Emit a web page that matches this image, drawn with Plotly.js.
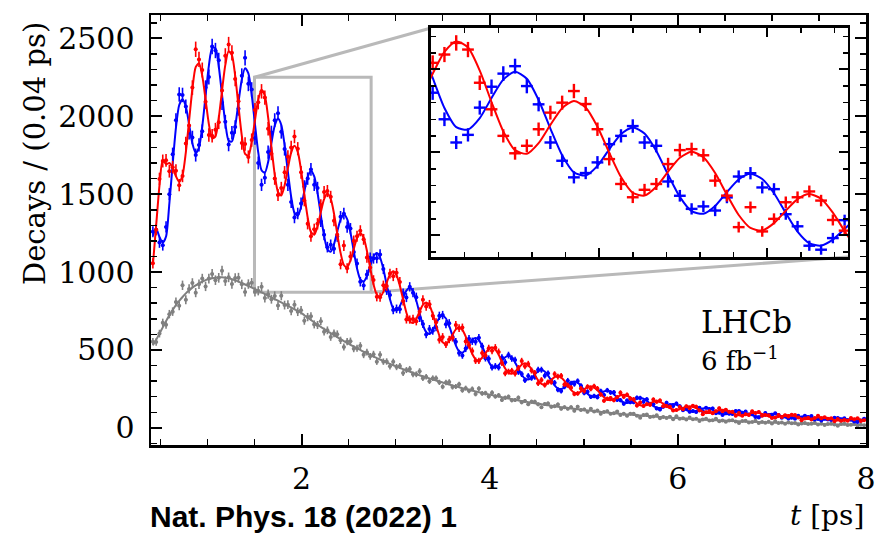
<!DOCTYPE html>
<html><head><meta charset="utf-8">
<script src="https://cdn.plot.ly/plotly-3.0.1.min.js"></script>
<style>html,body{margin:0;padding:0;background:#fff}</style>
</head><body><div id="plot" style="width:876px;height:535px"></div>
<script>
// decay time bin centres [ps]
const t = [0.420,0.455,0.490,0.525,0.560,0.595,0.630,0.665,0.700,0.735,
0.770,0.805,0.840,0.875,0.910,0.945,0.980,1.015,1.050,1.085,
1.120,1.155,1.190,1.225,1.260,1.295,1.330,1.365,1.400,1.435,
1.470,1.505,1.540,1.575,1.610,1.645,1.680,1.715,1.750,1.785,
1.820,1.855,1.890,1.925,1.960,1.995,2.030,2.065,2.100,2.135,
2.170,2.205,2.240,2.275,2.310,2.345,2.380,2.415,2.450,2.485,
2.520,2.555,2.590,2.625,2.660,2.695,2.730,2.765,2.800,2.835,
2.870,2.905,2.940,2.975,3.010,3.045,3.080,3.115,3.150,3.185,
3.220,3.255,3.290,3.325,3.360,3.395,3.430,3.465,3.500,3.535,
3.570,3.605,3.640,3.675,3.710,3.745,3.780,3.815,3.850,3.885,
3.920,3.955,3.990,4.025,4.060,4.095,4.130,4.165,4.200,4.235,
4.270,4.305,4.340,4.375,4.410,4.445,4.480,4.515,4.550,4.585,
4.620,4.655,4.690,4.725,4.760,4.795,4.830,4.865,4.900,4.935,
4.970,5.005,5.040,5.075,5.110,5.145,5.180,5.215,5.250,5.285,
5.320,5.355,5.390,5.425,5.460,5.495,5.530,5.565,5.600,5.635,
5.670,5.705,5.740,5.775,5.810,5.845,5.880,5.915,5.950,5.985,
6.020,6.055,6.090,6.125,6.160,6.195,6.230,6.265,6.300,6.335,
6.370,6.405,6.440,6.475,6.510,6.545,6.580,6.615,6.650,6.685,
6.720,6.755,6.790,6.825,6.860,6.895,6.930,6.965,7.000,7.035,
7.070,7.105,7.140,7.175,7.210,7.245,7.280,7.315,7.350,7.385,
7.420,7.455,7.490,7.525,7.560,7.595,7.630,7.665,7.700,7.735,
7.770,7.805,7.840,7.875,7.910,7.945,7.980];

// red: measured decays
const redData = [1056,1272,1598,1713,1717,1647,1673,1651,1558,1617,
1826,1941,2184,2430,2365,2297,2093,1880,1875,1914,
1962,2165,2388,2460,2407,2240,2096,1828,1822,1739,
1847,2040,2090,2160,2120,1920,1760,1600,1495,1540,
1640,1740,1800,1870,1792,1640,1460,1310,1230,1275,
1310,1430,1514,1520,1483,1330,1240,1050,1170,1024,
1100,1200,1230,1265,1210,1093,1029,949,841,838,
915,910,990,973,995,937,814,696,695,699,
684,746,823,779,793,719,678,565,584,535,
567,578,660,640,644,555,531,494,431,430,
480,464,511,495,515,487,417,350,361,366,
349,384,429,396,410,368,353,286,308,275,
294,294,345,329,334,279,274,258,218,221,
253,236,264,251,267,253,214,174,187,191,
178,197,226,200,212,188,184,143,163,141,
152,148,182,168,175,139,141,136,112,114,
134,120,138,126,142,136,112,88,101,106,
94,107,126,107,117,103,103,78,95,78,
87,82,106,96,102,78,83,81,64,66,
82,69,81,73,84,82,66,49,60,65,
54,63,78,61,68,59,62,43,57,46,
51,46,63,56,62,44,49];
// red: fitted curve
const redFit = [1046,1301,1555,1721,1692,1700,1669,1615,1578,1621,
1767,1972,2175,2316,2341,2259,2107,1950,1858,1871,
1989,2165,2330,2418,2392,2259,2064,1876,1759,1747,
1834,1974,2106,2169,2132,1993,1804,1627,1514,1492,
1556,1666,1767,1810,1771,1655,1499,1352,1257,1240,
1293,1384,1468,1504,1471,1376,1245,1123,1045,1030,
1074,1149,1219,1249,1221,1137,1026,922,856,841,
873,931,984,1005,979,913,823,739,685,673,
700,746,789,804,785,730,660,592,549,540,
560,598,632,645,629,586,529,474,441,432,
450,479,507,518,504,470,423,381,353,347,
360,384,405,414,404,376,340,305,283,278,
289,308,325,333,323,301,272,244,226,222,
232,247,261,267,259,241,218,196,182,178,
186,197,209,213,208,194,175,157,145,143,
148,158,168,171,167,155,140,126,117,115,
119,128,136,138,136,127,115,104,97,96,
100,107,113,117,114,107,96,88,81,80,
84,90,95,98,96,90,82,73,68,67,
70,75,79,82,80,75,68,61,57,57,
59,63,68,68,66,62,57,51,47,47,
49,52,55,58,57,53,48];

// blue: measured decays
const blueData = [1259,1272,1190,1172,1290,1500,1757,1975,2140,2137,
2063,1895,1864,1751,1816,1904,2184,2252,2448,2422,
2359,2086,1965,1818,1894,1931,2049,2260,2375,2208,
2172,1860,1700,1560,1606,1770,1896,1975,2020,1900,
1790,1560,1450,1350,1376,1440,1550,1600,1659,1560,
1540,1325,1239,1160,1175,1150,1229,1355,1375,1289,
1279,1128,1055,938,914,984,1092,1087,1089,1113,
1019,883,852,757,764,761,865,836,905,868,
839,706,666,599,635,623,645,719,724,665,
672,585,553,480,465,509,572,556,553,578,
524,447,444,388,396,388,452,421,467,445,
436,359,345,305,333,320,327,373,373,335,
350,301,290,245,236,264,303,285,281,300,
270,224,232,199,205,197,236,211,241,227,
228,180,178,155,176,165,165,194,192,168,
183,154,152,125,118,136,161,145,141,156,
139,113,124,103,108,102,129,107,129,121,
125,94,97,83,100,90,89,109,108,90,
105,86,90,70,67,79,96,83,81,93,
82,65,74,60,65,59,77,60,77,70,
76,54,57,48,61,53,50,65,64,50,
62,51,54,41,38,47,59];
// blue: fitted curve
const blueFit = [1234,1279,1225,1189,1228,1440,1691,1925,2072,2109,
2063,1948,1825,1764,1799,1935,2133,2324,2438,2437,
2321,2137,1956,1844,1838,1935,2090,2236,2309,2275,
2140,1950,1768,1653,1638,1707,1828,1939,1986,1944,
1816,1644,1483,1380,1361,1419,1519,1610,1651,1614,
1509,1366,1232,1146,1131,1178,1261,1337,1371,1340,
1254,1135,1023,953,939,975,1040,1100,1122,1093,
1019,919,826,765,753,781,833,881,899,877,
816,736,661,614,603,626,668,706,721,702,
654,590,530,491,483,502,535,566,577,564,
524,473,425,394,388,402,429,453,463,451,
420,380,341,316,310,322,344,363,371,362,
337,304,273,253,249,259,276,292,298,290,
270,243,219,203,199,207,220,234,238,232,
216,195,175,163,160,166,177,187,191,187,
174,156,140,131,127,133,142,150,153,149,
139,126,114,106,104,109,117,124,127,124,
116,105,95,89,88,91,98,104,107,104,
98,88,81,74,74,76,82,87,90,87,
82,75,67,62,62,65,68,73,75,73,
69,63,56,52,52,54,57,61,63,61,
57,52,47,44,43,45,48];

// grey: measured decays
const greyData = [553,551,605,675,662,730,746,808,783,915,
822,892,930,868,922,958,908,958,988,948,
963,1009,942,966,923,962,964,921,872,923,
931,873,880,905,833,858,826,847,785,848,
788,791,750,791,745,755,688,711,716,664,
660,684,617,626,583,607,601,562,519,554,
556,508,511,527,469,486,459,473,425,470,
425,426,395,424,390,397,352,371,378,344,
344,364,318,328,299,319,318,292,264,291,
295,262,266,280,241,255,238,250,217,252,
221,223,202,226,202,209,179,193,200,177,
179,194,164,172,152,168,168,151,132,153,
157,135,139,150,123,133,123,133,110,136,
115,118,103,122,105,111,90,102,107,91,
93,105,83,90,77,90,90,78,65,82,
85,70,73,81,62,70,64,72,55,75,
59,62,53,66,55,59,44,54,58,47,
49,59,43,48,39,48,49,41,32,44,
46,35,38,45,32,38,33,39,28,42,
31,34,27,36,29,32,21,28,32,24,
26,33,22,26,19,25,27,21,14,24,
26,18,20,25,15,20,17];
// grey: fitted curve
const greyFit = [530,565,605,645,685,722,757,788,815,840,
863,883,900,915,928,939,948,955,960,964,
966,966,964,960,954,947,939,930,920,911,
901,891,880,870,859,849,838,827,816,805,
794,783,772,761,750,739,723,708,692,677,
663,648,635,621,608,595,582,569,557,545,
533,522,511,500,489,479,468,458,448,439,
429,420,411,402,394,385,377,369,361,353,
346,338,331,324,317,310,304,297,291,284,
278,272,266,261,255,250,244,239,234,229,
224,219,214,210,205,201,197,192,188,184,
180,176,173,169,165,162,158,155,152,148,
145,142,139,136,133,130,128,125,122,120,
117,115,112,110,107,105,103,101,98,96,
94,92,90,88,86,85,83,81,79,78,
76,75,73,71,70,68,67,66,64,63,
61,60,59,58,56,55,54,53,52,51,
50,49,48,47,46,45,44,43,42,41,
40,39,38,38,37,36,35,35,34,33,
32,32,31,30,30,29,28,28,27,27,
26,26,25,25,24,23,23,22,22,22,
21,21,20,20,19,19,19];

const xTickVals = [2, 4, 6, 8];
const xMinorVals = [0.5, 1, 1.5, 2.5, 3, 3.5, 4.5, 5, 5.5, 6.5, 7, 7.5];
const yTickVals = [0, 500, 1000, 1500, 2000, 2500];

const RED = '#ff0000', BLUE = '#0000ff', GREY = '#808080';
const SERIF = 'DejaVu Serif, serif';
const xRange = [0.4, 8], yRange = [-110, 2650];
const zoomX = [1.5, 2.74], zoomY = [870, 2250];
const insetDomX = [0.3916, 0.9748], insetDomY = [0.4372, 0.9698];
const halfBin = 0.0175;

function pts(y, color, xa, ya, th, ms) {
  return {x: t, y: y, type: 'scatter', mode: 'markers', xaxis: xa, yaxis: ya,
    marker: {color: color, size: ms}, showlegend: false, hoverinfo: 'skip',
    error_y: {type: 'data', array: y.map(Math.sqrt), color: color, thickness: th, width: 0},
    error_x: {type: 'constant', value: halfBin, color: color, thickness: th, width: 0}};
}
function fit(y, color, xa, ya, w) {
  return {x: t, y: y, type: 'scatter', mode: 'lines', xaxis: xa, yaxis: ya,
    line: {color: color, width: w, shape: 'spline', smoothing: 0.7},
    showlegend: false, hoverinfo: 'skip'};
}

const traces = [
  pts(greyData, GREY, 'x', 'y', 1.6, 4), fit(greyFit, GREY, 'x', 'y', 2),
  pts(blueData, BLUE, 'x', 'y', 1.6, 4), fit(blueFit, BLUE, 'x', 'y', 2),
  pts(redData, RED, 'x', 'y', 1.6, 4), fit(redFit, RED, 'x', 'y', 2),
  pts(blueData, BLUE, 'x2', 'y2', 2.4, 3), fit(blueFit, BLUE, 'x2', 'y2', 2),
  pts(redData, RED, 'x2', 'y2', 2.4, 3), fit(redFit, RED, 'x2', 'y2', 2)
];

const frame = {showline: true, linewidth: 2.5, linecolor: 'black', mirror: 'allticks',
  ticks: 'inside', tickcolor: 'black', showgrid: false, zeroline: false};

function px(v) { return (v - xRange[0]) / (xRange[1] - xRange[0]); }
function py(v) { return (v - yRange[0]) / (yRange[1] - yRange[0]); }

const layout = {
  width: 876, height: 535,
  margin: {l: 151, r: 10, t: 15, b: 90},
  paper_bgcolor: 'white', plot_bgcolor: 'rgba(0,0,0,0)',
  showlegend: false, hovermode: false,
  xaxis: Object.assign({}, frame, {domain: [0, 1], anchor: 'y', range: xRange,
    tickvals: xTickVals, ticklen: 11, tickwidth: 2,
    minor: {tickvals: xMinorVals, ticklen: 6, tickwidth: 1.5, ticks: 'inside', tickcolor: 'black'},
    tickfont: {family: SERIF, size: 30, color: 'black'}, ticklabelstandoff: 5}),
  yaxis: Object.assign({}, frame, {domain: [0, 1], anchor: 'x', range: yRange,
    tickvals: yTickVals, ticklen: 11, tickwidth: 2,
    minor: {dtick: 100, tick0: 0, ticklen: 6, tickwidth: 1.5, ticks: 'inside', tickcolor: 'black'},
    tickfont: {family: SERIF, size: 30, color: 'black'}, ticklabelstandoff: 8}),
  xaxis2: Object.assign({}, frame, {domain: insetDomX, anchor: 'y2', range: zoomX,
    tick0: 0, dtick: 0.5, ticklen: 9, tickwidth: 2, showticklabels: false,
    minor: {dtick: 0.1, ticklen: 5, tickwidth: 1.5, ticks: 'inside', tickcolor: 'black'}}),
  yaxis2: Object.assign({}, frame, {domain: insetDomY, anchor: 'x2', range: zoomY,
    tick0: 0, dtick: 500, ticklen: 9, tickwidth: 2, showticklabels: false,
    minor: {dtick: 100, ticklen: 5, tickwidth: 1.5, ticks: 'inside', tickcolor: 'black'}}),
  shapes: [
    {type: 'rect', xref: 'x', yref: 'y', x0: zoomX[0], x1: zoomX[1], y0: zoomY[0], y1: zoomY[1],
      line: {color: '#b9b9b9', width: 3}, layer: 'below'},
    {type: 'line', xref: 'paper', yref: 'paper', x0: px(zoomX[0]), y0: py(zoomY[1]),
      x1: insetDomX[0], y1: insetDomY[1], line: {color: '#b9b9b9', width: 3}, layer: 'below'},
    {type: 'line', xref: 'paper', yref: 'paper', x0: px(zoomX[1]), y0: py(zoomY[0]),
      x1: insetDomX[1], y1: insetDomY[0], line: {color: '#b9b9b9', width: 3}, layer: 'below'}
  ],
  annotations: [
    {text: 'Decays / (0.04 ps)', xref: 'paper', yref: 'paper', x: -0.162, y: 0.677,
      textangle: -90, showarrow: false, xanchor: 'center', yanchor: 'middle',
      font: {family: SERIF, size: 29, color: 'black'}},
    {text: '<i>t</i> [ps]', xref: 'paper', yref: 'paper', x: 1.0, y: -0.163,
      showarrow: false, xanchor: 'right', yanchor: 'middle',
      font: {family: SERIF, size: 28, color: 'black'}},
    {text: 'Nat. Phys. 18 (2022) 1', xref: 'paper', yref: 'paper', x: -0.004, y: -0.166,
      showarrow: false, xanchor: 'left', yanchor: 'middle',
      font: {family: 'Liberation Sans, Arial, sans-serif', size: 30, color: 'black', weight: 'bold'}},
    {text: 'LHCb', xref: 'paper', yref: 'paper', x: 0.766, y: 0.286,
      showarrow: false, xanchor: 'left', yanchor: 'middle',
      font: {family: SERIF, size: 31, color: 'black'}},
    {text: '6 fb<sup>\u22121</sup>', xref: 'paper', yref: 'paper', x: 0.766, y: 0.2,
      showarrow: false, xanchor: 'left', yanchor: 'middle',
      font: {family: SERIF, size: 26, color: 'black'}}
  ]
};

Plotly.newPlot('plot', traces, layout, {staticPlot: true, displayModeBar: false});
</script>
</body></html>
